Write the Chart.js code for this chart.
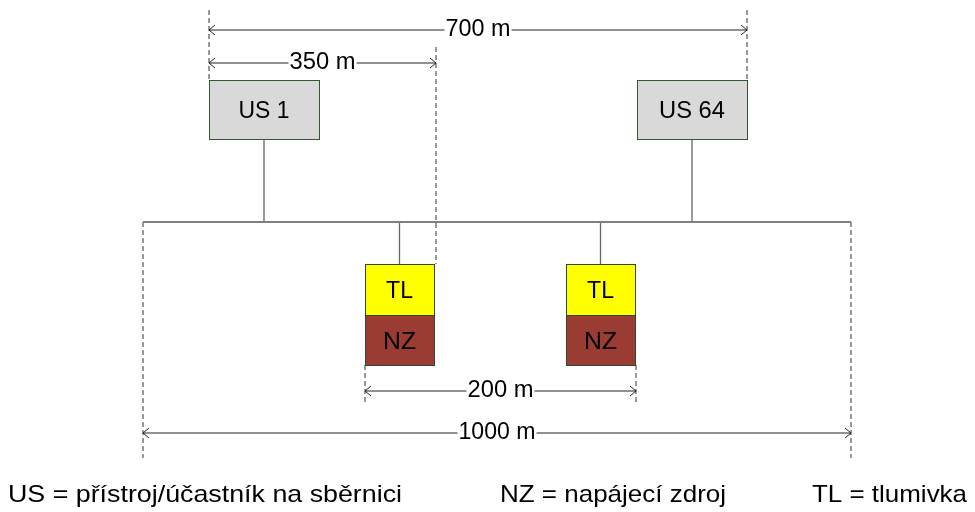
<!DOCTYPE html>
<html>
<head>
<meta charset="utf-8">
<script src="https://cdn.jsdelivr.net/npm/chart.js@4/dist/chart.umd.min.js"></script>
<style>
  html, body { margin: 0; padding: 0; background: #fff; }
  #wrap { width: 975px; height: 512px; }
</style>
</head>
<body>
<div id="wrap"><canvas id="myChart" width="975" height="512"></canvas></div>
<script>
// values shown in the drawing
const dimValues = [700, 350, 200, 1000];
const dimUnit = 'm';
const deviceLabels = ['US 1', 'US 64'];
const supplyLabels = ['TL', 'NZ'];
const legendLabels = ['US = přístroj/účastník na sběrnici', 'NZ = napájecí zdroj', 'TL = tlumivka'];

// layout of the sketch (drawing units = px of the original picture)
const busY = 222, busX = [143, 851];
const deviceBoxes = [[209, 80, 110, 59, 51], [637, 80, 110, 59, 66]];   // x, y, w, h, text width
const supplyBoxes = [[365, 264, 69, 51, 50], [566, 264, 69, 51, 50]]; // x, y, w, hTL, hNZ
const supplyTextW = [27, 33];
const dimLines = [[209, 747, 30, 36, 65], [209, 436, 63, 69, 66], [365, 636, 391, 397, 66], [143, 851, 433, 439, 77]]; // x1, x2, y, baseline, text width
const extLines = [[209, 10, 80], [747, 10, 80], [436, 47, 264], [143, 222, 458], [851, 222, 458], [365, 365, 405], [636, 365, 405]];
const legendPos = [[8, 394], [500, 226], [812, 155]]; // x, text width
const legendBaseline = 502;

const FONT = '24px "Liberation Sans", Arial, sans-serif';

function seg(x1, y1, x2, y2, color, width, dash) {
    return {
        type: 'line',
        data: [{x: x1, y: y1}, {x: x2, y: y2}],
        borderColor: color,
        borderWidth: width,
        borderDash: dash || [],
        pointRadius: 0,
        fill: false,
        tension: 0
    };
}

let datasets = [];
datasets.push(seg(busX[0], busY, busX[1], busY, '#808080', 2));
deviceBoxes.forEach(b => {
    let cx = b[0] + b[2] / 2;
    datasets.push(seg(cx, b[1] + b[3], cx, busY, '#666666', 1.3));
});
supplyBoxes.forEach(b => {
    let cx = b[0] + b[2] / 2;
    datasets.push(seg(cx, busY, cx, b[1], '#666666', 1.3));
});
extLines.forEach(e => {
    datasets.push(seg(e[0], e[1], e[0], e[2], '#333333', 1, [5, 3]));
});
dimLines.forEach(d => {
    datasets.push(seg(d[0], d[2], d[1], d[2], '#222222', 1));
});

function fitText(ctx, text, x, y, width, align) {
    let w = ctx.measureText(text).width;
    let s = width / w;
    ctx.save();
    ctx.translate(x, y);
    ctx.scale(s, 1);
    ctx.textAlign = align;
    ctx.fillText(text, 0, 0);
    ctx.restore();
}

const sketchPlugin = {
    id: 'sketch',
    afterDatasetsDraw(chart) {
        const ctx = chart.ctx;
        const xs = chart.scales.x, ys = chart.scales.y;
        const px = v => xs.getPixelForValue(v);
        const py = v => ys.getPixelForValue(v);
        ctx.save();
        ctx.font = FONT;
        ctx.textBaseline = 'alphabetic';

        // device boxes
        deviceBoxes.forEach((b, i) => {
            let x = px(b[0]), y = py(b[1]), w = px(b[0] + b[2]) - x, h = py(b[1] + b[3]) - y;
            ctx.fillStyle = '#d9d9d9';
            ctx.fillRect(x, y, w, h);
            ctx.strokeStyle = '#2f5a2f';
            ctx.lineWidth = 1;
            ctx.strokeRect(x + 0.5, y + 0.5, w, h);
            ctx.fillStyle = '#000';
            fitText(ctx, deviceLabels[i], x + w / 2, py(b[1] + 38), b[4], 'center');
        });

        // choke + power supply stacks
        supplyBoxes.forEach(b => {
            let x = px(b[0]), w = px(b[0] + b[2]) - x;
            let y1 = py(b[1]), y2 = py(b[1] + b[3]), y3 = py(b[1] + b[3] + b[4]);
            ctx.fillStyle = '#ffff00';
            ctx.fillRect(x, y1, w, y2 - y1);
            ctx.fillStyle = '#9b3c34';
            ctx.fillRect(x, y2, w, y3 - y2);
            ctx.strokeStyle = '#2f4a2f';
            ctx.lineWidth = 1;
            ctx.strokeRect(x + 0.5, y1 + 0.5, w, y3 - y1);
            ctx.beginPath();
            ctx.moveTo(x, y2 + 0.5);
            ctx.lineTo(x + w, y2 + 0.5);
            ctx.stroke();
            ctx.fillStyle = '#000';
            fitText(ctx, supplyLabels[0], x + w / 2, py(b[1] + 34), supplyTextW[0], 'center');
            fitText(ctx, supplyLabels[1], x + w / 2, py(b[1] + b[3] + 34), supplyTextW[1], 'center');
        });

        // dimension arrows and labels
        dimLines.forEach((d, i) => {
            let x1 = px(d[0]), x2 = px(d[1]), y = py(d[2]);
            ctx.strokeStyle = '#222';
            ctx.lineWidth = 1;
            ctx.beginPath();
            ctx.moveTo(x1 + 6, y - 5); ctx.lineTo(x1, y); ctx.lineTo(x1 + 6, y + 5);
            ctx.moveTo(x2 - 6, y - 5); ctx.lineTo(x2, y); ctx.lineTo(x2 - 6, y + 5);
            ctx.stroke();
            let text = dimValues[i] + ' ' + dimUnit;
            let cx = (x1 + x2) / 2, tw = d[4];
            ctx.fillStyle = '#fff';
            ctx.fillRect(cx - tw / 2 - 1, y - 12, tw + 2, 24);
            ctx.fillStyle = '#000';
            fitText(ctx, text, cx, py(d[3]), tw, 'center');
        });

        // legend line
        legendLabels.forEach((t, i) => {
            ctx.fillStyle = '#000';
            fitText(ctx, t, px(legendPos[i][0]), py(legendBaseline), legendPos[i][1], 'left');
        });
        ctx.restore();
    }
};

new Chart(document.getElementById('myChart').getContext('2d'), {
    type: 'scatter',
    data: { datasets: datasets },
    options: {
        responsive: false,
        animation: false,
        devicePixelRatio: 1,
        layout: { padding: 0 },
        scales: {
            x: { type: 'linear', min: 0, max: 975, display: false },
            y: { type: 'linear', min: 0, max: 512, reverse: true, display: false }
        },
        plugins: { legend: { display: false }, tooltip: { enabled: false } },
        events: []
    },
    plugins: [sketchPlugin]
});
</script>
</body>
</html>
